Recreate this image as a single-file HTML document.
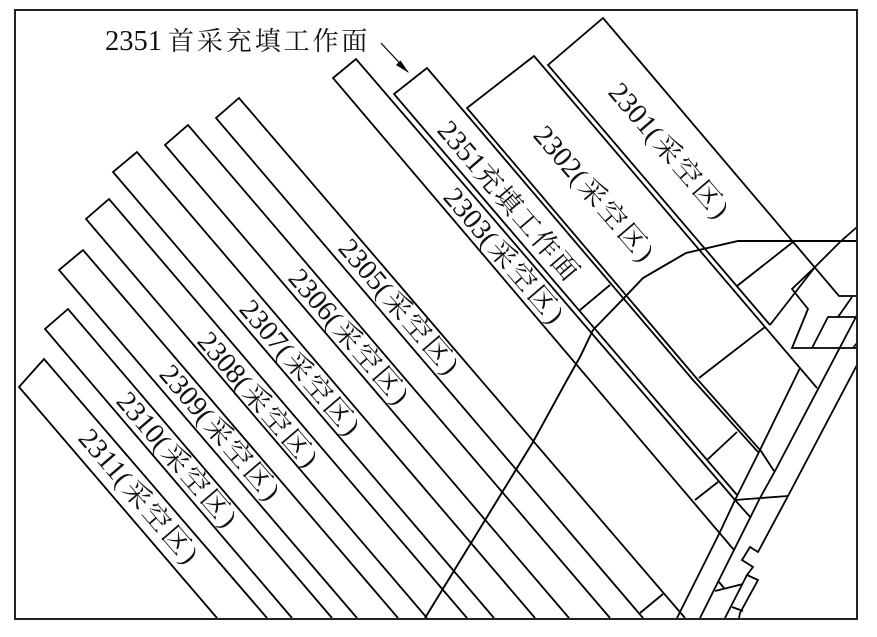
<!DOCTYPE html>
<html><head><meta charset="utf-8"><style>
html,body{margin:0;padding:0;background:#fff}
svg{display:block}
text{font-family:"Liberation Serif","Noto Serif CJK SC",serif;font-size:28.5px;fill:#111}
.c{letter-spacing:3px;font-size:27px}
.d{letter-spacing:2px;font-size:27px}
.t{letter-spacing:2.9px;font-size:26px}
</style></head><body>
<svg width="877" height="637" viewBox="0 0 877 637" xmlns="http://www.w3.org/2000/svg">
<rect width="877" height="637" fill="#fff"/>
<g fill="none" stroke="#000" stroke-width="1.8" stroke-linejoin="miter">
<!-- 2311 -->
<path d="M217 618L19 387L44 359L267 618"/>
<!-- 2310 -->
<path d="M292 618L45 329L68 309L332 618"/>
<!-- 2309 -->
<path d="M357 618L59 270L83 250L398 618"/>
<!-- 2308 -->
<path d="M427 618L86 219L109 199L467 618"/>
<!-- 2307 -->
<path d="M494 618L113 172L137 152L535 618"/>
<!-- 2306 -->
<path d="M569 618L165 145L188 125L610 618"/>
<!-- 2305 -->
<path d="M643 618L216 118L239 98L685 618"/>
<path d="M640 613L663 594"/>
<!-- 2303 -->
<path d="M734 550L333 78L356 59L735 500L751 518"/>
<!-- 2351 -->
<path d="M737 495L394 94L427 68L693 380L758 452"/>
<!-- 2302 -->
<path d="M774 471L761 451L698 380L467 108L534 56L817 388"/>
<!-- 2301 -->
<path d="M770 325L548 65L603 18L839 296H857"/>
<!-- gob boundary -->
<path d="M857 241H738L686 253L643 278L625 297L593 330L580 357L567 380L533 442L425 618" stroke-width="1.9"/>
<!-- ties -->
<path d="M793 242L737 286"/>
<path d="M610 285L580 310"/>
<path d="M765 327L699 378"/>
<path d="M737 432L707 460"/>
<path d="M718 482L695 500"/>
<!-- right structure -->
<path d="M857 227L840 242L815 267L792 289L808 309L792 348H857"/>
<path d="M815 267L770 325"/>
<path d="M812 348L828 317H855"/>
<path d="M838 317L852 297"/>
<path d="M857 343L853 348"/>
<!-- roads -->
<path d="M857 315L775 471L760 498L734 550L700 618"/>
<path d="M857 365L788 496L758 552L750 547L742 560L753 567L747 575L758 580L740 613L739 618"/>
<path d="M800 368L759 452L735 500L720 532L680 612L677 618"/>
<path d="M747 575L725 618"/>
<path d="M732 607L743 611"/>
<path d="M743 584L715 591"/>
<path d="M719 582L724 588"/>
<path d="M735 500L788 496"/>
</g>
<!-- arrow -->
<path d="M381 43L408 72" fill="none" stroke="#000" stroke-width="1.2"/>
<path d="M400.500 60.500L396 65L409 73Z" fill="#000"/>
<!-- frame -->
<rect x="15" y="10" width="842" height="609" fill="none" stroke="#222" stroke-width="2"/>
<!-- labels -->
<text x="105" y="50">2351<tspan class="t" dx="6">首采充填工作面</tspan></text>
<text transform="translate(614 87) rotate(49.3)" y="9">2301<tspan class="c">(采空区)</tspan></text>
<text transform="translate(539 130) rotate(49.3)" y="9">2302<tspan class="c">(采空区)</tspan></text>
<text transform="translate(443 125) rotate(49.3)" y="9">2351<tspan class="d">充填工作面</tspan></text>
<text transform="translate(449 192) rotate(49.3)" y="9">2303<tspan class="c">(采空区)</tspan></text>
<text transform="translate(344 243) rotate(49.3)" y="9">2305<tspan class="c">(采空区)</tspan></text>
<text transform="translate(294 273) rotate(49.3)" y="9">2306<tspan class="c">(采空区)</tspan></text>
<text transform="translate(245 304) rotate(49.3)" y="9">2307<tspan class="c">(采空区)</tspan></text>
<text transform="translate(203 336) rotate(49.3)" y="9">2308<tspan class="c">(采空区)</tspan></text>
<text transform="translate(165 369) rotate(49.3)" y="9">2309<tspan class="c">(采空区)</tspan></text>
<text transform="translate(122 396) rotate(49.3)" y="9">2310<tspan class="c">(采空区)</tspan></text>
<text transform="translate(84 433) rotate(49.3)" y="9">2311<tspan class="c">(采空区)</tspan></text>
</svg>
</body></html>
